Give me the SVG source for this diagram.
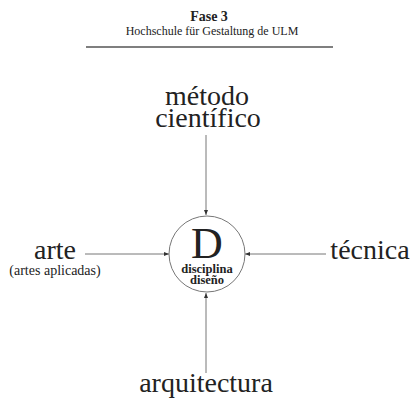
<svg xmlns="http://www.w3.org/2000/svg" width="414" height="400" viewBox="0 0 414 400">
<style>
  text { font-family: "Liberation Serif", "Times New Roman", serif; fill: #222; text-anchor: middle; }
  .big { font-size: 28px; }
  .small { font-size: 14px; }
  .conn { stroke: #777; stroke-width: 1; fill: none; marker-end: url(#arr); }
</style>
<defs>
  <marker id="arr" viewBox="0 0 10 10" refX="10" refY="5" markerWidth="5" markerHeight="5" orient="auto" markerUnits="userSpaceOnUse">
    <path d="M0,1 L10,5 L0,9 Z" fill="#333"/>
  </marker>
</defs>
<rect width="414" height="400" fill="#fff"/>
<g id="header">
  <text x="209" y="21" style="font-size:14px;font-weight:bold">Fase 3</text>
  <text x="212" y="35" style="font-size:12px">Hochschule für Gestaltung de ULM</text>
  <line x1="86" y1="47" x2="333" y2="47" stroke="#555" stroke-width="1.5"/>
</g>
<g id="connectors">
  <line class="conn" x1="206" y1="135" x2="206" y2="215"/>
  <line class="conn" x1="85" y1="254" x2="169" y2="254"/>
  <line class="conn" x1="326" y1="254" x2="245" y2="254"/>
  <line class="conn" x1="206" y1="373" x2="206" y2="293"/>
</g>
<g id="metodo">
  <text class="big" x="207" y="105">método</text>
  <text class="big" x="208" y="127">científico</text>
</g>
<g id="arte">
  <text class="big" x="55" y="259">arte</text>
  <text class="small" x="55" y="275">(artes aplicadas)</text>
</g>
<g id="tecnica">
  <text class="big" x="370" y="259">técnica</text>
</g>
<g id="arquitectura">
  <text class="big" x="206" y="392">arquitectura</text>
</g>
<g id="disciplina">
  <circle cx="207" cy="254" r="38" fill="#fff" stroke="#777" stroke-width="1"/>
  <text x="207" y="258" style="font-size:44px">D</text>
  <text x="207" y="273" style="font-size:12.5px;font-weight:bold">disciplina</text>
  <text x="207" y="284" style="font-size:12.5px;font-weight:bold">diseño</text>
</g>
</svg>
